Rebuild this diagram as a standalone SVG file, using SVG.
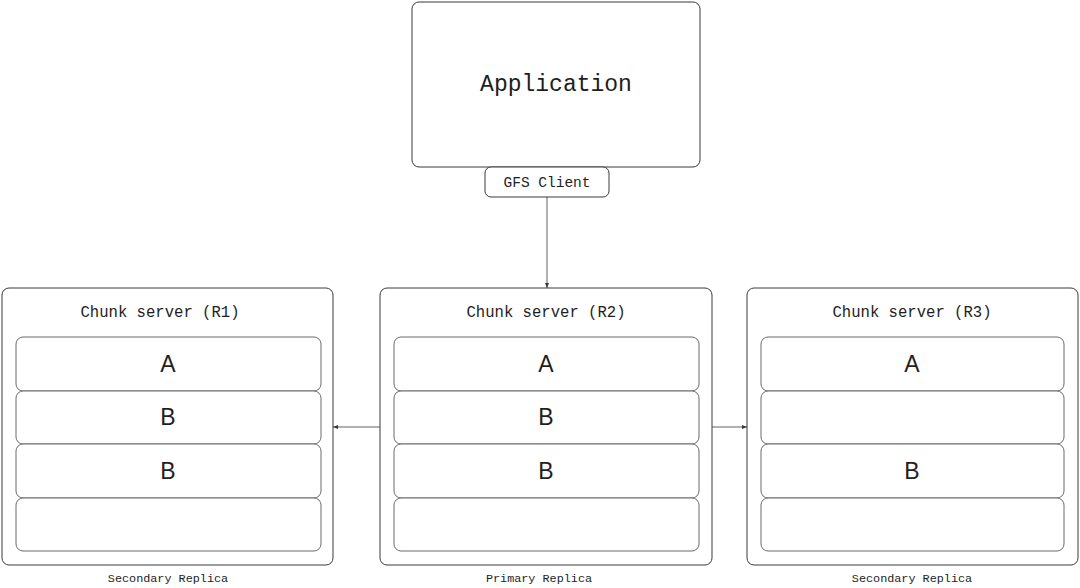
<svg xmlns="http://www.w3.org/2000/svg" width="1080" height="588" viewBox="0 0 1080 588">
<defs>
<style>
.box{fill:#fff;stroke:#3a3a3a;stroke-width:1}
.row{fill:#fff;stroke:#6a6a6a;stroke-width:1}
.mono{font-family:"Liberation Mono","DejaVu Sans Mono",monospace;fill:#1e1e1e;text-anchor:middle}
.big{font-family:"Liberation Sans","DejaVu Sans",sans-serif;font-size:23px;fill:#1e1e1e;text-anchor:middle}
.conn{stroke:#3a3a3a;stroke-width:0.8;fill:none}
</style>
<marker id="ah" viewBox="0 0 10 10" refX="10" refY="5" markerWidth="5" markerHeight="5" orient="auto" markerUnits="userSpaceOnUse">
<path d="M0,1 L10,5 L0,9 z" fill="#3a3a3a"/>
</marker>
</defs>
<rect width="1080" height="588" fill="#fff"/>
<g id="connectors">
<line class="conn" x1="547" y1="197" x2="547" y2="288" marker-end="url(#ah)"/>
<line class="conn" x1="380" y1="427" x2="333" y2="427" marker-end="url(#ah)"/>
<line class="conn" x1="712" y1="427" x2="747" y2="427" marker-end="url(#ah)"/>
</g>
<g id="application">
<rect class="box" x="412" y="2" width="288" height="165" rx="7"/>
<text class="mono" x="556" y="91" font-size="23">Application</text>
</g>
<g id="gfs-client">
<rect class="box" x="485" y="167" width="124" height="30" rx="6"/>
<text class="mono" x="547" y="187" font-size="14.5">GFS Client</text>
</g>
<g id="r1">
<rect class="box" x="2" y="288" width="331" height="277" rx="7"/>
<text class="mono" x="160" y="317" font-size="15.6">Chunk server (R1)</text>
<rect class="row" x="16" y="337" width="305" height="54" rx="7"/>
<rect class="row" x="16" y="391" width="305" height="53" rx="7"/>
<rect class="row" x="16" y="444" width="305" height="54" rx="7"/>
<rect class="row" x="16" y="498" width="305" height="53" rx="7"/>
<text class="big" x="168" y="372">A</text>
<text class="big" x="168" y="425">B</text>
<text class="big" x="168" y="479">B</text>
</g>
<g id="r2">
<rect class="box" x="380" y="288" width="332" height="277" rx="7"/>
<text class="mono" x="546" y="317" font-size="15.6">Chunk server (R2)</text>
<rect class="row" x="394" y="337" width="305" height="54" rx="7"/>
<rect class="row" x="394" y="391" width="305" height="53" rx="7"/>
<rect class="row" x="394" y="444" width="305" height="54" rx="7"/>
<rect class="row" x="394" y="498" width="305" height="53" rx="7"/>
<text class="big" x="546" y="372">A</text>
<text class="big" x="546" y="425">B</text>
<text class="big" x="546" y="479">B</text>
</g>
<g id="r3">
<rect class="box" x="747" y="288" width="331" height="277" rx="7"/>
<text class="mono" x="912" y="317" font-size="15.6">Chunk server (R3)</text>
<rect class="row" x="761" y="337" width="303" height="54" rx="7"/>
<rect class="row" x="761" y="391" width="303" height="53" rx="7"/>
<rect class="row" x="761" y="444" width="303" height="54" rx="7"/>
<rect class="row" x="761" y="498" width="303" height="53" rx="7"/>
<text class="big" x="912" y="372">A</text>
<text class="big" x="912" y="479">B</text>
</g>
<g id="labels">
<text class="mono" x="168" y="582" font-size="11.8">Secondary Replica</text>
<text class="mono" x="539" y="582" font-size="11.8">Primary Replica</text>
<text class="mono" x="912" y="582" font-size="11.8">Secondary Replica</text>
</g>
</svg>
